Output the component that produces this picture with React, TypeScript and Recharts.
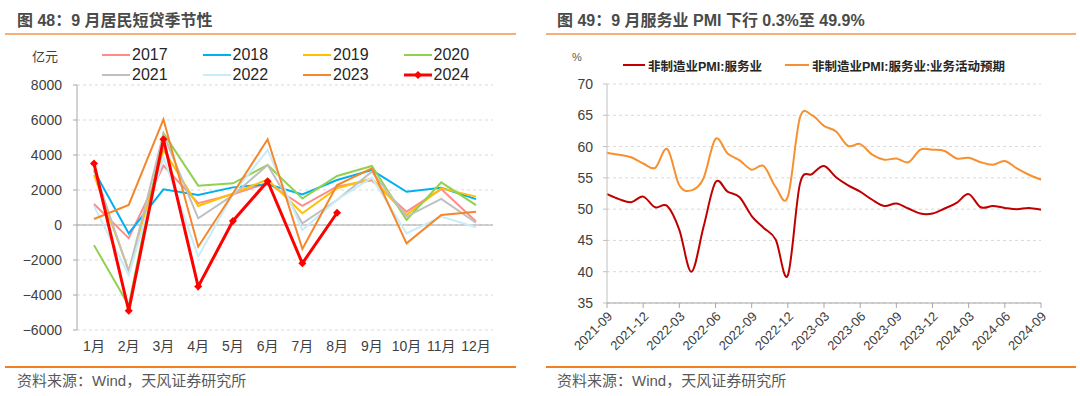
import React from 'react';
import { LineChart, Line, XAxis, YAxis, CartesianGrid, ReferenceLine } from 'recharts';

// 图48：居民短贷（亿元）按月
const months = ['1月', '2月', '3月', '4月', '5月', '6月', '7月', '8月', '9月', '10月', '11月', '12月'];
const loans2017 = [1200, -750, 3400, 1250, 1750, 2400, 1100, 2200, 2550, 760, 2050, 200];
const loans2018 = [3100, -480, 2040, 1710, 2150, 2330, 1750, 2570, 3140, 1900, 2130, 1480];
const loans2019 = [2860, -2600, 4300, 1085, 1800, 2600, 670, 2100, 2660, 570, 2100, 1620];
const loans2020 = [-1150, -4600, 5250, 2250, 2380, 3430, 1520, 2800, 3370, 290, 2440, 1140];
const loans2021 = [3200, -2670, 5200, 380, 1700, 3430, 100, 1430, 3050, 480, 1490, 130];
const loans2022 = [1080, -2860, 3870, -1810, 1760, 4290, -290, 1450, 2700, -480, 480, -130];
const loans2023 = [340, 1150, 6040, -1240, 1800, 4900, -1370, 2280, 3240, -1050, 570, 760];
const loans2024 = [3520, -4900, 4900, -3520, 230, 2500, -2190, 700, null, null, null, null];
const loanTicks = [-6000, -4000, -2000, 0, 2000, 4000, 6000, 8000];

// 图49：服务业PMI
const pmiDates = [
  '2021-09', '2021-10', '2021-11', '2021-12', '2022-01', '2022-02', '2022-03', '2022-04', '2022-05',
  '2022-06', '2022-07', '2022-08', '2022-09', '2022-10', '2022-11', '2022-12', '2023-01', '2023-02',
  '2023-03', '2023-04', '2023-05', '2023-06', '2023-07', '2023-08', '2023-09', '2023-10', '2023-11',
  '2023-12', '2024-01', '2024-02', '2024-03', '2024-04', '2024-05', '2024-06', '2024-07', '2024-08',
  '2024-09',
];
const servicesPmi = [
  52.4, 51.6, 51.1, 52.0, 50.3, 50.5, 46.7, 40.0, 47.1, 54.3, 52.8, 51.9, 48.9, 47.0, 45.1, 39.4,
  54.0, 55.6, 56.9, 55.1, 53.8, 52.8, 51.5, 50.5, 50.9, 50.1, 49.3, 49.3, 50.1, 51.0, 52.4, 50.3,
  50.5, 50.2, 50.0, 50.2, 49.9,
];
const servicesExpect = [
  59.0, 58.7, 58.3, 57.3, 56.6, 59.6, 53.8, 53.0, 54.9, 61.2, 58.9, 57.8, 56.3, 56.9, 53.5, 52.0,
  64.6, 65.0, 63.3, 62.4, 60.1, 60.4, 58.7, 57.9, 58.1, 57.5, 59.5, 59.5, 59.3, 58.1, 58.2, 57.5,
  57.1, 57.7, 56.5, 55.5, 54.7,
];
const pmiTicks = [35, 40, 45, 50, 55, 60, 65, 70];

const loanSeries = [
  { key: 'y2017', name: '2017', values: loans2017, color: '#FF8B8B', width: 2 },
  { key: 'y2018', name: '2018', values: loans2018, color: '#00B0F0', width: 2 },
  { key: 'y2019', name: '2019', values: loans2019, color: '#FFC000', width: 2 },
  { key: 'y2020', name: '2020', values: loans2020, color: '#92D050', width: 2 },
  { key: 'y2021', name: '2021', values: loans2021, color: '#BFBFBF', width: 2 },
  { key: 'y2022', name: '2022', values: loans2022, color: '#C9ECF9', width: 2 },
  { key: 'y2023', name: '2023', values: loans2023, color: '#F5862A', width: 2 },
  { key: 'y2024', name: '2024', values: loans2024, color: '#FF0000', width: 3 },
];

const loanRows = months.map((m, i) => {
  const row: any = { month: m };
  loanSeries.forEach((s) => { row[s.key] = s.values[i]; });
  return row;
});

const pmiRows = pmiDates.map((d, i) => ({ date: d, pmi: servicesPmi[i], expect: servicesExpect[i] }));

const LATIN = '"Liberation Sans", Arial, "Noto Sans CJK SC", sans-serif';
const CJK = '"Liberation Sans", "Noto Sans CJK SC", sans-serif';

// Excel 风格平滑线（Catmull-Rom）
const smoothCurve: any = (context: any) => {
  let pts: number[][] = [];
  return {
    areaStart() {},
    areaEnd() {},
    lineStart() { pts = []; },
    point(x: number, y: number) { pts.push([+x, +y]); },
    lineEnd() {
      if (!pts.length) return;
      context.moveTo(pts[0][0], pts[0][1]);
      for (let i = 0; i < pts.length - 1; i++) {
        const p0 = pts[i - 1] || pts[i];
        const p1 = pts[i];
        const p2 = pts[i + 1];
        const p3 = pts[i + 2] || p2;
        context.bezierCurveTo(
          p1[0] + (p2[0] - p0[0]) / 6, p1[1] + (p2[1] - p0[1]) / 6,
          p2[0] - (p3[0] - p1[0]) / 6, p2[1] - (p3[1] - p1[1]) / 6,
          p2[0], p2[1],
        );
      }
    },
  };
};

const Diamond = ({ cx, cy }: any) => {
  if (cx == null || cy == null) return null;
  return <path d={`M${cx},${cy - 4}L${cx + 4},${cy}L${cx},${cy + 4}L${cx - 4},${cy}Z`} fill="#FF0000" />;
};

const DateTick = ({ x, y, payload }: any) => (
  <text
    x={x + 3}
    y={y}
    dy="0.35em"
    textAnchor="end"
    transform={`rotate(-45 ${x + 3} ${y})`}
    fontSize={13}
    fill="#404040"
    fontFamily={LATIN}
  >
    {payload.value}
  </text>
);

const fmtLoan = (v: number) => String(v).replace('-', '\u2212');

const Title = ({ left, text }: { left: number; text: string }) => (
  <div style={{ position: 'absolute', left, top: 11, fontSize: 16, fontWeight: 700, color: '#4A4A4A', fontFamily: CJK, whiteSpace: 'nowrap', lineHeight: '20px' }}>
    {text}
  </div>
);

const Source = ({ left }: { left: number }) => (
  <div style={{ position: 'absolute', left, top: 371, fontSize: 15, color: '#595959', fontFamily: CJK, whiteSpace: 'nowrap', lineHeight: '20px' }}>
    资料来源：Wind，天风证券研究所
  </div>
);

const Rule = ({ left, width, top, color, h }: any) => (
  <div style={{ position: 'absolute', left, top, width, height: h, background: color }} />
);

export default function App() {
  return (
    <div style={{ position: 'absolute', left: 0, top: 0, width: 1080, height: 396, background: '#fff', overflow: 'hidden' }}>
      <Title left={17} text="图 48：9 月居民短贷季节性" />
      <Title left={557} text="图 49：9 月服务业 PMI 下行 0.3%至 49.9%" />
      <Rule left={5} width={511} top={33} color="#F5B07A" h={2} />
      <Rule left={546} width={530} top={33} color="#F5B07A" h={2} />

      {/* 左图 */}
      <div style={{ position: 'absolute', left: 32, top: 46, fontSize: 13, color: '#404040', fontFamily: CJK }}>亿元</div>
      {loanSeries.map((s, i) => (
        <div
          key={s.key}
          style={{ position: 'absolute', left: 102 + (i % 4) * 100.5, top: 45 + Math.floor(i / 4) * 20, height: 20, display: 'flex', alignItems: 'center', fontFamily: LATIN, fontSize: 16, color: '#262626' }}
        >
          <svg width={30} height={20} style={{ display: 'block' }}>
            <line x1={0} y1={10} x2={28} y2={10} stroke={s.color} strokeWidth={s.width} />
            {s.key === 'y2024' && <path d="M14,6L18,10L14,14L10,10Z" fill="#FF0000" />}
          </svg>
          <span>{s.name}</span>
        </div>
      ))}
      <div style={{ position: 'absolute', left: 0, top: 0 }}>
        <LineChart width={510} height={360} data={loanRows} margin={{ top: 85, right: 17, bottom: 0, left: 0 }}>
          <CartesianGrid horizontal vertical={false} stroke="#D9D9D9" strokeDasharray="3 3" />
          <XAxis
            dataKey="month"
            padding={{ left: 17, right: 17 }}
            axisLine={false}
            tickLine={false}
            tickSize={0}
            tickMargin={11}
            height={30}
            interval={0}
            tick={{ fontSize: 14, fill: '#404040', fontFamily: CJK }}
          />
          <YAxis
            domain={[-6000, 8000]}
            ticks={loanTicks}
            tickFormatter={fmtLoan}
            width={77}
            axisLine={{ stroke: '#A6A6A6' }}
            tickLine={{ stroke: '#A6A6A6' }}
            tickSize={4}
            tickMargin={11}
            tick={{ fontSize: 14, fill: '#404040', fontFamily: LATIN }}
          />
          <ReferenceLine y={0} stroke="#A6A6A6" strokeWidth={1} />
          {loanSeries.map((s) => (
            <Line
              key={s.key}
              dataKey={s.key}
              type="linear"
              stroke={s.color}
              strokeWidth={s.width}
              dot={s.key === 'y2024' ? <Diamond /> : false}
              activeDot={false}
              connectNulls={false}
              isAnimationActive={false}
            />
          ))}
        </LineChart>
      </div>

      {/* 右图 */}
      <div style={{ position: 'absolute', left: 572, top: 51, fontSize: 11, color: '#595959', fontFamily: LATIN }}>%</div>
      <div style={{ position: 'absolute', left: 623, top: 56, height: 18, display: 'flex', alignItems: 'center', fontSize: 12.5, fontWeight: 700, color: '#262626', fontFamily: CJK, whiteSpace: 'nowrap' }}>
        <svg width={25} height={18} style={{ display: 'block' }}><line x1={0} y1={9} x2={22} y2={9} stroke="#C00000" strokeWidth={2} /></svg>
        <span>非制造业PMI:服务业</span>
      </div>
      <div style={{ position: 'absolute', left: 785, top: 56, height: 18, display: 'flex', alignItems: 'center', fontSize: 12.5, fontWeight: 700, color: '#262626', fontFamily: CJK, whiteSpace: 'nowrap' }}>
        <svg width={27} height={18} style={{ display: 'block' }}><line x1={0} y1={9} x2={24} y2={9} stroke="#F7902F" strokeWidth={2} /></svg>
        <span>非制造业PMI:服务业:业务活动预期</span>
      </div>
      <div style={{ position: 'absolute', left: 540, top: 0 }}>
        <LineChart width={520} height={360} data={pmiRows} margin={{ top: 84, right: 19, bottom: 0, left: 0 }}>
          <CartesianGrid horizontal vertical={false} stroke="#D9D9D9" strokeDasharray="3 3" />
          <XAxis
            dataKey="date"
            interval={2}
            height={57}
            axisLine={{ stroke: '#A6A6A6' }}
            tickLine={{ stroke: '#A6A6A6' }}
            tickSize={5}
            tickMargin={6}
            tick={<DateTick />}
          />
          <YAxis
            domain={[35, 70]}
            ticks={pmiTicks}
            width={67}
            axisLine={{ stroke: '#BFBFBF' }}
            tickLine={{ stroke: '#BFBFBF' }}
            tickSize={4}
            tickMargin={10}
            tick={{ fontSize: 14, fill: '#404040', fontFamily: LATIN }}
          />
          <Line dataKey="pmi" type={smoothCurve} stroke="#C00000" strokeWidth={2} dot={false} activeDot={false} isAnimationActive={false} />
          <Line dataKey="expect" type={smoothCurve} stroke="#F7902F" strokeWidth={2} dot={false} activeDot={false} isAnimationActive={false} />
        </LineChart>
      </div>

      <Rule left={5} width={511} top={366} color="#F47F20" h={1.5} />
      <Rule left={546} width={530} top={366} color="#F47F20" h={1.5} />
      <Source left={17} />
      <Source left={557} />
    </div>
  );
}
